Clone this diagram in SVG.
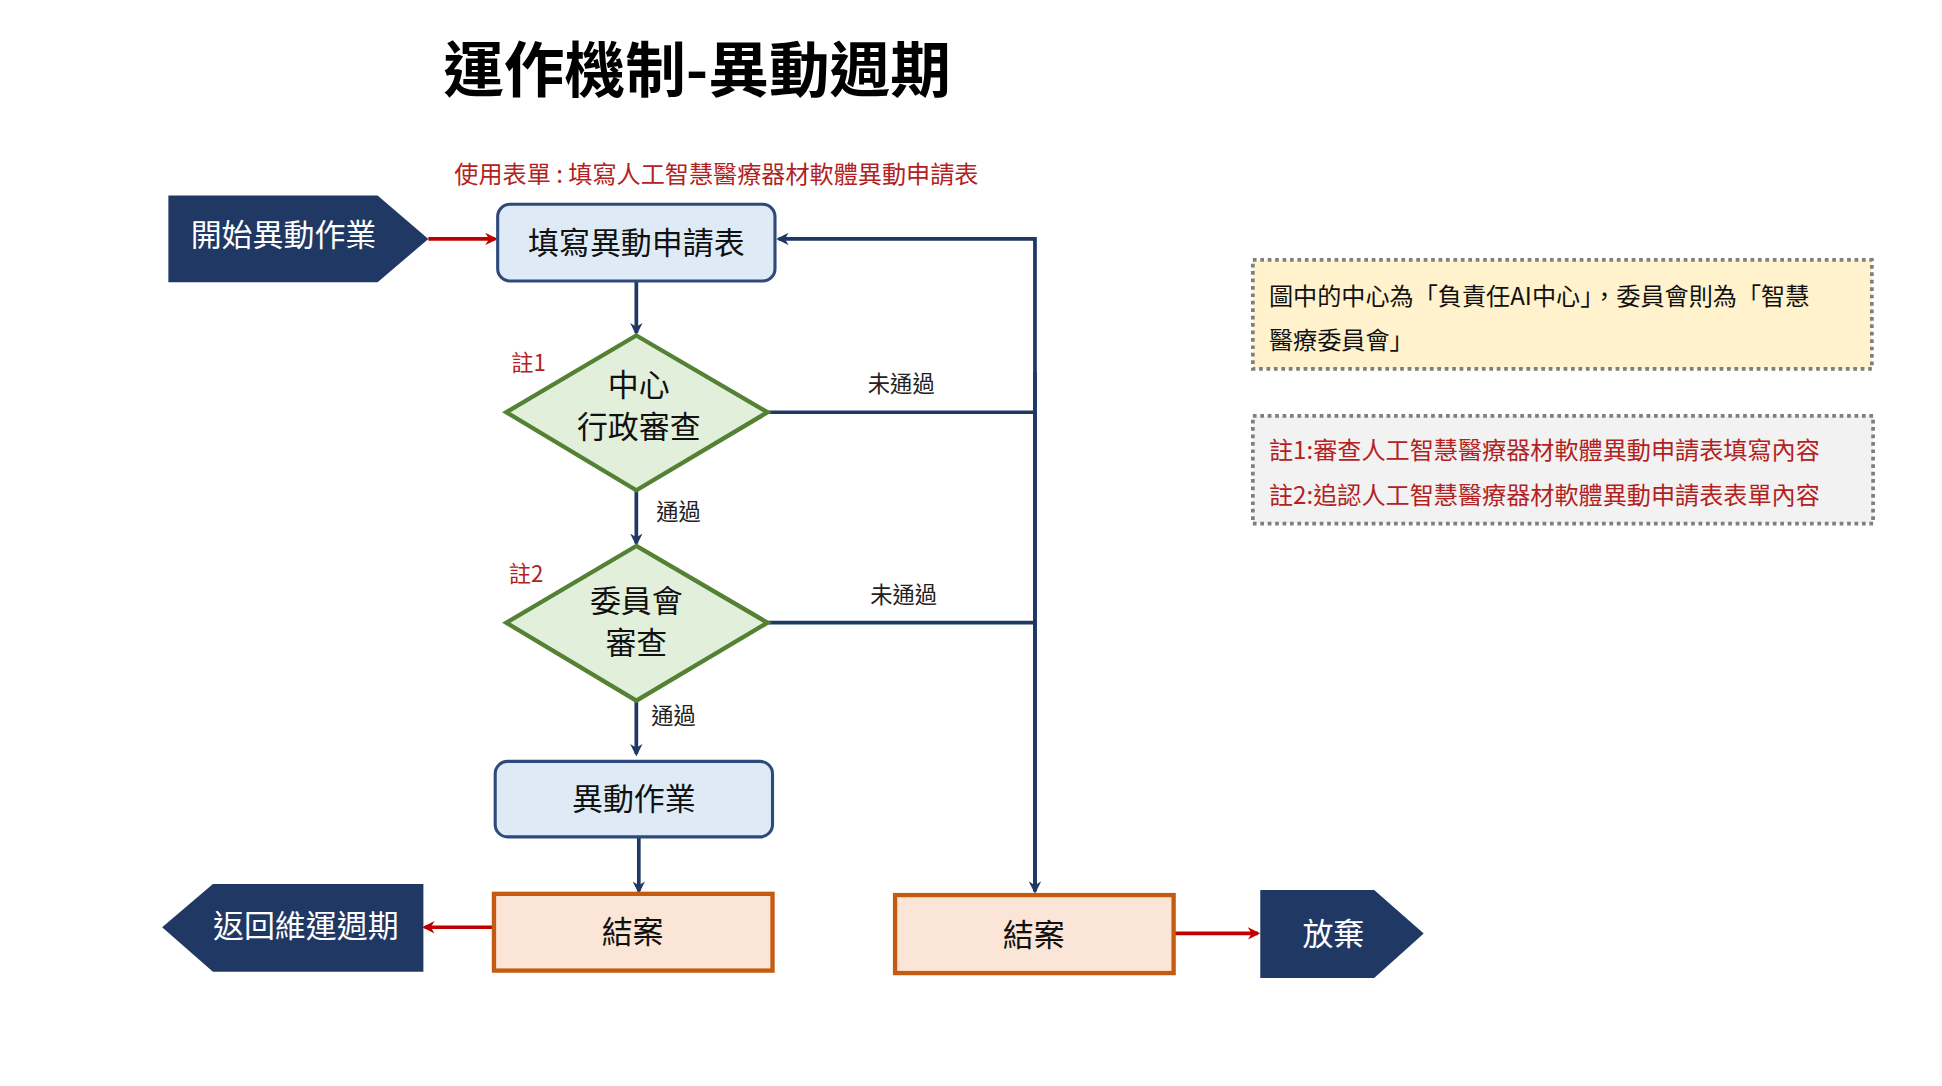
<svg xmlns="http://www.w3.org/2000/svg" width="1942" height="1086" viewBox="0 0 1942 1086">
<defs>
<marker id="an" markerWidth="10" markerHeight="10" refX="8" refY="5" orient="auto" markerUnits="userSpaceOnUse"><path d="M0,0 L10,5 L0,10 L3,5 z" fill="#203864"/></marker>
<marker id="ar" markerWidth="10" markerHeight="10" refX="8" refY="5" orient="auto" markerUnits="userSpaceOnUse"><path d="M0,0 L10,5 L0,10 L3,5 z" fill="#C00000"/></marker>
<style>
text{font-family:"Noto Sans CJK TC","Noto Sans CJK SC",sans-serif;}
.n{stroke:#203864;stroke-width:3;fill:none}
.r{stroke:#C00000;stroke-width:3;fill:none}
.blue{fill:#DEEBF7;stroke:#2F4A7A;stroke-width:2.5}
.dia{fill:#E2EFDA;stroke:#548235;stroke-width:3.5}
.end{fill:#FBE5D6;stroke:#C55A11;stroke-width:3.5}
.navy{fill:#1F3864}
.t{font-size:25px;fill:#111;text-anchor:middle}
.w{font-size:25px;fill:#fff;text-anchor:middle}
.s{font-size:18px;fill:#222;text-anchor:middle}
.red{fill:#B22222}
</style>
</defs>
<rect width="1942" height="1086" fill="#fff"/>
<g transform="scale(1.238)">
<text x="358" y="74" font-size="49" font-weight="bold" fill="#000">運作機制-異動週期</text>
<text x="367" y="148" font-size="19.5" class="red">使用表單 : 填寫人工智慧醫療器材軟體異動申請表</text>
<g id="connectors">
<line x1="346" y1="193" x2="400" y2="193" class="r" marker-end="url(#ar)"/>
<line x1="514" y1="227" x2="514" y2="269" class="n" marker-end="url(#an)"/>
<line x1="514" y1="396" x2="514" y2="439" class="n" marker-end="url(#an)"/>
<line x1="514" y1="566" x2="514" y2="609" class="n" marker-end="url(#an)"/>
<line x1="516" y1="676" x2="516" y2="720" class="n" marker-end="url(#an)"/>
<line x1="620" y1="333" x2="836" y2="333" class="n"/>
<line x1="620" y1="503" x2="836" y2="503" class="n"/>
<polyline points="836,720 836,193 629,193" class="n" marker-end="url(#an)"/>
<line x1="836" y1="300" x2="836" y2="720" class="n" marker-end="url(#an)"/>
<line x1="399" y1="749" x2="343" y2="749" class="r" marker-end="url(#ar)"/>
<line x1="948" y1="754" x2="1016" y2="754" class="r" marker-end="url(#ar)"/>
<text x="728" y="317" class="s">未通過</text>
<text x="730" y="487" class="s">未通過</text>
<text x="548" y="420" class="s">通過</text>
<text x="544" y="585" class="s">通過</text>
</g>
<g id="start"><polygon points="136,158 305,158 346,193 305,228 136,228" class="navy"/><text x="229" y="199" class="w">開始異動作業</text></g>
<g id="fill"><rect x="402" y="165" width="224" height="62" rx="10" class="blue"/><text x="514" y="205" class="t">填寫異動申請表</text></g>
<g id="d1"><polygon points="514,271 620,333 514,396 409,333" class="dia"/><text x="516" y="320" class="t">中心</text><text x="516" y="354" class="t">行政審查</text><text x="413" y="300" font-size="18" class="red">註1</text></g>
<g id="d2"><polygon points="514,441 620,503 514,566 409,503" class="dia"/><text x="514" y="494" class="t">委員會</text><text x="514" y="528" class="t">審查</text><text x="411" y="470" font-size="18" class="red">註2</text></g>
<g id="work"><rect x="400" y="615" width="224" height="61" rx="10" class="blue"/><text x="512" y="654" class="t">異動作業</text></g>
<g id="close1"><rect x="399" y="722" width="225" height="62" class="end"/><text x="511" y="762" class="t">結案</text></g>
<g id="close2"><rect x="723" y="723" width="225" height="63" class="end"/><text x="835" y="764" class="t">結案</text></g>
<g id="return"><polygon points="131,749 172,714 342,714 342,785 172,785" class="navy"/><text x="247" y="757" class="w">返回維運週期</text></g>
<g id="giveup"><polygon points="1018,719 1110,719 1150,754 1110,790 1018,790" class="navy"/><text x="1077" y="763" class="w">放棄</text></g>
<g id="note1"><rect x="1012" y="210" width="500" height="88" fill="#FFF2CC" stroke="#7F7F7F" stroke-width="3" stroke-dasharray="3,3"/><text x="1025" y="246" font-size="19.5" fill="#111">圖中的中心為「負責任AI中心」，委員會則為「智慧</text><text x="1025" y="282" font-size="19.5" fill="#111">醫療委員會」</text></g>
<g id="note2"><rect x="1012" y="336" width="501" height="87" fill="#F2F2F2" stroke="#7F7F7F" stroke-width="3" stroke-dasharray="3,3"/><text x="1025" y="371" font-size="19.5" class="red">註1:審查人工智慧醫療器材軟體異動申請表填寫內容</text><text x="1025" y="407" font-size="19.5" class="red">註2:追認人工智慧醫療器材軟體異動申請表表單內容</text></g>
</g>
</svg>
